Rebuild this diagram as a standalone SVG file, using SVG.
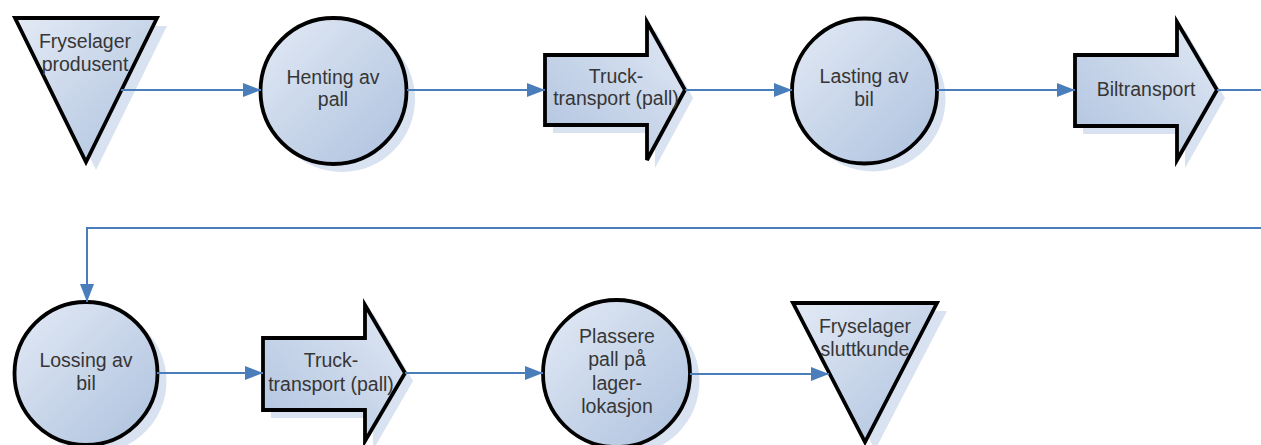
<svg xmlns="http://www.w3.org/2000/svg" width="1261" height="445" viewBox="0 0 1261 445">
  <defs>
    <linearGradient id="gradA" x1="0" y1="0" x2="1" y2="1">
      <stop offset="0" stop-color="#e3eaf5"/>
      <stop offset="1" stop-color="#adc1de"/>
    </linearGradient>
    <linearGradient id="gradB" x1="0" y1="1" x2="1" y2="0">
      <stop offset="0" stop-color="#b0c3df"/>
      <stop offset="1" stop-color="#e0e8f4"/>
    </linearGradient>
    <marker id="arr" markerUnits="userSpaceOnUse" markerWidth="18" markerHeight="14" refX="18" refY="7" orient="auto">
      <path d="M0,0 L18,7 L0,14 z" fill="#4a7ebb"/>
    </marker>
  </defs>
  <style>
    .shadow { fill: #d8e2f1; stroke: none; }
    .shapeA { fill: url(#gradA); stroke: #000; stroke-width: 3.8; stroke-linejoin: miter; }
    .shapeB { fill: url(#gradB); stroke: #000; stroke-width: 3.8; stroke-linejoin: miter; }
    .lbl { font-family: "Liberation Sans", Arial, sans-serif; font-size: 19.5px; fill: #363636; text-anchor: middle; }
    .conn { fill: none; stroke: #4a7ebb; stroke-width: 2; }
  </style>
  <rect width="1261" height="445" fill="#ffffff"/>

  <g id="node-fryselager-produsent">
    <polygon class="shadow" points="25,26 167,26 96,170"/>
    <polygon class="shapeA" points="15,18 157,18 86,162"/>
    <text class="lbl" x="85" y="48">Fryselager</text>
    <text class="lbl" x="85" y="71">produsent</text>
  </g>

  <g id="node-henting-av-pall">
    <circle class="shadow" cx="342" cy="99" r="73"/>
    <circle class="shapeA" cx="333.5" cy="91" r="73"/>
    <text class="lbl" x="333" y="84">Henting av</text>
    <text class="lbl" x="333" y="106">pall</text>
  </g>

  <g id="node-truck-transport-1">
    <polygon class="shadow" points="553,63 655,63 655,30 693,98 655,168 655,133 553,133"/>
    <polygon class="shapeB" points="545,55 647,55 647,22 685,90 647,160 647,125 545,125"/>
    <text class="lbl" x="616" y="83">Truck-</text>
    <text class="lbl" x="616" y="105">transport (pall)</text>
  </g>

  <g id="node-lasting-av-bil">
    <circle class="shadow" cx="873" cy="99" r="72.5"/>
    <circle class="shapeA" cx="864.5" cy="91" r="72.5"/>
    <text class="lbl" x="864" y="83">Lasting av</text>
    <text class="lbl" x="864" y="106">bil</text>
  </g>

  <g id="node-biltransport">
    <polygon class="shadow" points="1083,63 1185,63 1185,30 1225,98 1185,168 1185,134 1083,134"/>
    <polygon class="shapeB" points="1075,55 1177,55 1177,22 1217,90 1177,160 1177,126 1075,126"/>
    <text class="lbl" x="1146" y="96">Biltransport</text>
  </g>

  <g id="node-lossing-av-bil">
    <circle class="shadow" cx="95" cy="381" r="71.5"/>
    <circle class="shapeA" cx="86" cy="373.5" r="71.5"/>
    <text class="lbl" x="86" y="367">Lossing av</text>
    <text class="lbl" x="86" y="390">bil</text>
  </g>

  <g id="node-truck-transport-2">
    <polygon class="shadow" points="271,346 373,346 373,313 413,381 373,450 373,418 271,418"/>
    <polygon class="shapeB" points="263,338 365,338 365,305 405,373 365,441 365,410 263,410"/>
    <text class="lbl" x="331" y="367">Truck-</text>
    <text class="lbl" x="331" y="391">transport (pall)</text>
  </g>

  <g id="node-plassere-pall">
    <circle class="shadow" cx="626" cy="381" r="73.5"/>
    <circle class="shapeA" cx="616.5" cy="373.5" r="73.5"/>
    <text class="lbl" x="617" y="343">Plassere</text>
    <text class="lbl" x="617" y="366">pall på</text>
    <text class="lbl" x="617" y="390">lager-</text>
    <text class="lbl" x="617" y="413">lokasjon</text>
  </g>

  <g id="node-fryselager-sluttkunde">
    <polygon class="shadow" points="803,311 947,311 875,450"/>
    <polygon class="shapeA" points="793,303 937,303 865,442"/>
    <text class="lbl" x="865" y="333">Fryselager</text>
    <text class="lbl" x="865" y="356">sluttkunde</text>
  </g>

  <g id="connectors">
    <path class="conn" d="M121,90 L261,90" marker-end="url(#arr)"/>
    <path class="conn" d="M407,90 L545,90" marker-end="url(#arr)"/>
    <path class="conn" d="M685,90 L792,90" marker-end="url(#arr)"/>
    <path class="conn" d="M937,90 L1075,90" marker-end="url(#arr)"/>
    <path class="conn" d="M1217,90 L1261,90"/>
    <path class="conn" d="M1261,228 L87,228 L87,302" marker-end="url(#arr)"/>
    <path class="conn" d="M157,373 L263,373" marker-end="url(#arr)"/>
    <path class="conn" d="M405,373 L543,373" marker-end="url(#arr)"/>
    <path class="conn" d="M690,374 L829,374" marker-end="url(#arr)"/>
  </g>
</svg>
